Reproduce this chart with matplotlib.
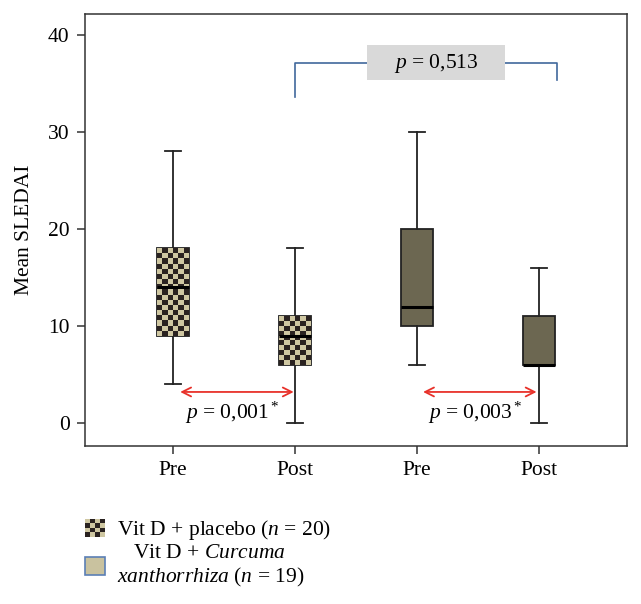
import numpy as np
import matplotlib
matplotlib.use("Agg")
import matplotlib.pyplot as plt
from matplotlib.patches import Rectangle, Patch
from matplotlib.legend_handler import HandlerBase

plt.rcParams["font.family"] = ["Liberation Serif", "DejaVu Serif"]
plt.rcParams["mathtext.fontset"] = "custom"
plt.rcParams["mathtext.rm"] = "Liberation Serif"
plt.rcParams["mathtext.it"] = "Liberation Serif:italic"

# values
positions = [1, 2, 3, 4]
tick_labels = ["Pre", "Post", "Pre", "Post"]
whislo = [4, 0, 6, 0]
q1 = [9, 6, 10, 6]
med = [14, 9, 12, 6]
q3 = [18, 11, 20, 11]
whishi = [28, 18, 30, 16]
groups = ["placebo", "placebo", "curcuma", "curcuma"]

dark = "#2a2220"
beige = "#cfc7a2"
olive = "#6c6751"
red = "#e8312a"
blue = "#41689c"

fig = plt.figure(figsize=(6.41, 6.04), dpi=100)
ax = fig.add_axes([0.1326, 0.2616, 0.8454, 0.7152])

stats = []
for i in range(len(positions)):
    stats.append(dict(med=med[i], q1=q1[i], q3=q3[i], whislo=whislo[i], whishi=whishi[i], fliers=[]))

bp = ax.bxp(stats, positions=positions, widths=0.26, patch_artist=True, showfliers=False,
            boxprops=dict(edgecolor="#222222", linewidth=1.3),
            whiskerprops=dict(color="#222222", linewidth=1.3),
            capprops=dict(color="#222222", linewidth=1.3),
            medianprops=dict(color="black", linewidth=2.2),
            capwidths=0.13)

for i, box in enumerate(bp["boxes"]):
    if groups[i] == "placebo":
        box.set_facecolor(beige)
        # checker pattern clipped to the box
        ny = int(round((q3[i] - q1[i]) / 0.515))
        yy, xx = np.indices((ny, 6))
        pattern = (xx + yy) % 2
        im = ax.imshow(pattern, cmap=matplotlib.colors.ListedColormap([beige, dark]),
                       extent=[positions[i] - 0.13, positions[i] + 0.13, q1[i], q3[i]],
                       aspect="auto", interpolation="nearest", zorder=2.05)
        im.set_clip_path(box)
    else:
        box.set_facecolor(olive)

ax.set_xlim(0.28, 4.72)
ax.set_ylim(-2.37, 42.16)
ax.set_yticks([0, 10, 20, 30, 40])
ax.set_xticks(positions)
ax.set_xticklabels(tick_labels)
ax.tick_params(axis="both", labelsize=15.5, length=6, width=1.1, color="#333333", direction="out")
ax.tick_params(axis="y", pad=5)
ax.tick_params(axis="x", pad=5)
for s in ax.spines.values():
    s.set_linewidth(1.1)
    s.set_color("#333333")
ax.set_ylabel("Mean SLEDAI", fontsize=15.5, labelpad=10)

# within-group comparisons
ax.annotate("", xy=(1.06, 3.2), xytext=(1.99, 3.2),
            arrowprops=dict(arrowstyle="<->", color=red, lw=1.3, shrinkA=0, shrinkB=0, mutation_scale=16))
ax.annotate("", xy=(3.05, 3.2), xytext=(3.98, 3.2),
            arrowprops=dict(arrowstyle="<->", color=red, lw=1.3, shrinkA=0, shrinkB=0, mutation_scale=16))
ax.text(1.49, 1.0, "$p$ = 0,001$^*$", fontsize=15.5, ha="center", va="center")
ax.text(3.48, 1.0, "$p$ = 0,003$^*$", fontsize=15.5, ha="center", va="center")

# between-group comparison
ax.plot([2, 2, 4.15, 4.15], [33.6, 37.1, 37.1, 35.4], color=blue, lw=1.2)
ax.add_patch(Rectangle((2.59, 35.36), 1.13, 3.6, facecolor="#d9d9d9", edgecolor="none", zorder=3))
ax.text(3.155, 37.1, "$p$ = 0,513", fontsize=15.5, ha="center", va="center", zorder=4)


class HandlerChecker(HandlerBase):
    def create_artists(self, legend, orig_handle, xdescent, ydescent, width, height, fontsize, trans):
        arts = [Rectangle((-xdescent, -ydescent), width, height, facecolor=beige,
                          edgecolor="none", transform=trans)]
        n = 4
        for r in range(n):
            for c in range(n):
                if (r + c) % 2 == 0:
                    arts.append(Rectangle((-xdescent + c * width / n, -ydescent + r * height / n),
                                          width / n, height / n, facecolor=dark,
                                          edgecolor="none", transform=trans))
        return arts


h1 = Patch(facecolor=beige)
h2 = Patch(facecolor="#c9c29f", edgecolor="#5b7fb5", linewidth=1.2)
leg = fig.legend([h1, h2],
                 ["Vit D + placebo ($n$ = 20)",
                  "   Vit D + $Curcuma$\n$xanthorrhiza$ ($n$ = 19)"],
                 handler_map={h1: HandlerChecker()},
                 loc="upper left", bbox_to_anchor=(85 / 641, 1 - 518 / 604),
                 frameon=False, fontsize=15.5, handlelength=0.93, handleheight=0.9,
                 handletextpad=0.55, borderpad=0, borderaxespad=0, labelspacing=0.08)

fig.savefig("out.png", dpi=100)
